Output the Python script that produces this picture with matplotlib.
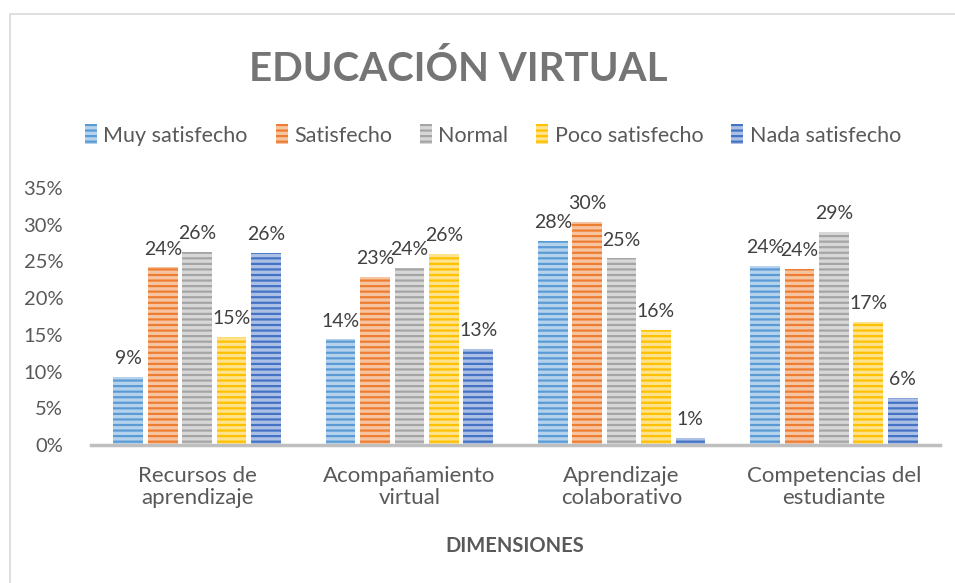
import matplotlib.pyplot as plt
import numpy as np
from matplotlib.patches import Rectangle
from matplotlib.colors import to_rgb

plt.rcParams["font.family"] = ["Lato", "DejaVu Sans"]
plt.rcParams["hatch.linewidth"] = 1.6

categories = ["Recursos de\naprendizaje", "Acompañamiento\nvirtual",
              "Aprendizaje\ncolaborativo", "Competencias del\nestudiante"]
series = ["Muy satisfecho", "Satisfecho", "Normal", "Poco satisfecho", "Nada satisfecho"]
muy = [0.093, 0.144, 0.278, 0.244]
satisfecho = [0.242, 0.229, 0.304, 0.240]
normal = [0.263, 0.241, 0.254, 0.290]
poco = [0.147, 0.260, 0.157, 0.168]
nada = [0.262, 0.131, 0.010, 0.064]
colors = ["#5B9BD5", "#ED7D31", "#A5A5A5", "#FFC000", "#4472C4"]
yticks = [0, 0.05, 0.10, 0.15, 0.20, 0.25, 0.30, 0.35]

TEXT = "#595959"


def lighten(c, amt=0.55):
    r, g, b = to_rgb(c)
    return (r + (1 - r) * amt, g + (1 - g) * amt, b + (1 - b) * amt)


fig = plt.figure(figsize=(9.55, 5.83), dpi=100)
fig.patches.append(Rectangle((10 / 955, -0.05), 1.2, 1 - 14 / 583 + 0.05,
                             transform=fig.transFigure, fill=False,
                             edgecolor="#D9D9D9", linewidth=1.2))

ax = fig.add_axes([91 / 955, 1 - 445 / 583, 849 / 955, 257 / 583])
x = np.arange(len(categories))
width = 0.14
step = 0.162
for i, (vals, name, col) in enumerate(zip([muy, satisfecho, normal, poco, nada], series, colors)):
    pos = x + (i - 2) * step
    bars = ax.bar(pos, vals, width, color=lighten(col), edgecolor=col,
                  hatch="---", linewidth=0, label=name)
    for b, v in zip(bars, vals):
        ax.annotate(f"{v:.0%}", (b.get_x() + b.get_width() / 2, v),
                    xytext=(0, 7), textcoords="offset points",
                    ha="center", va="bottom", fontsize=14, color="#404040")

ax.set_xlim(-0.5, len(categories) - 0.5)
ax.set_ylim(0, 0.35)
ax.set_yticks(yticks)
ax.set_yticklabels([f"{t:.0%}" for t in yticks], fontsize=14.5, color=TEXT)
ax.set_xticks(x)
ax.set_xticklabels(categories, fontsize=16, color=TEXT, linespacing=1.15)
ax.tick_params(length=0)
ax.tick_params(axis="y", pad=20)
ax.tick_params(axis="x", pad=15)
for s in ["top", "right", "left"]:
    ax.spines[s].set_visible(False)
ax.spines["bottom"].set_color("#BFBFBF")
ax.spines["bottom"].set_linewidth(2.5)

fig.text(515 / 955, 1 - 546 / 583, "DIMENSIONES", ha="center", va="center",
         fontsize=14.5, fontweight="bold", color=TEXT)
fig.text(458 / 955, 1 - 69 / 583, "EDUCACIÓN VIRTUAL", ha="center", va="center",
         fontsize=29, fontweight="bold", color="#757575")

handles, labels = ax.get_legend_handles_labels()
fig.legend(handles, labels, loc="center", bbox_to_anchor=(493 / 955, 1 - 135 / 583),
           ncol=5, frameon=False, fontsize=15.5, handlelength=0.55, handleheight=1.0,
           handletextpad=0.3, columnspacing=1.3, labelcolor=TEXT)

fig.savefig("out.png", dpi=100)
